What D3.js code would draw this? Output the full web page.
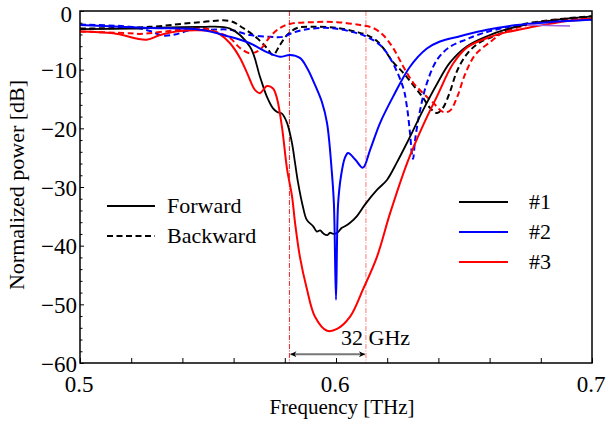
<!DOCTYPE html>
<html>
<head>
<meta charset="utf-8">
<script src="https://cdn.jsdelivr.net/npm/d3@7"></script>
<style>
  html, body { margin: 0; padding: 0; background: #fff; }
  svg { display: block; }
  text { font-family: "Liberation Serif", "Times New Roman", serif; fill: #000; }
</style>
</head>
<body>
<svg id="chart" width="608" height="421"></svg>
<script>
// ---------- data (frequency in THz, power in dB) ----------
const fwd1Freq = [0.5, 0.52, 0.547, 0.5586, 0.5664, 0.5703, 0.573, 0.5754, 0.577, 0.5789, 0.5809, 0.5828, 0.584, 0.5852, 0.5871, 0.5886, 0.5911, 0.5925, 0.5938, 0.595, 0.5966, 0.5977, 0.5989, 0.6005, 0.6022, 0.6035, 0.6055, 0.6081, 0.6113, 0.616, 0.6199, 0.6238, 0.6277, 0.634, 0.6395, 0.6445, 0.6512, 0.659, 0.6668, 0.677, 0.6902, 0.7];
const fwd1Db   = [-3.1, -3.0, -2.7, -3.0, -6.1, -11.2, -14.6, -16.6, -17.2, -17.5, -19.1, -22.5, -25.9, -29.3, -33.4, -35.6, -36.7, -37.6, -37.4, -37.9, -38.2, -37.8, -38.0, -37.8, -37.0, -36.7, -36.1, -35.0, -33.0, -30.5, -28.8, -25.8, -22.5, -16.9, -12.4, -8.8, -6.0, -4.3, -3.1, -2.1, -1.3, -0.9];

const fwd2Freq = [0.5, 0.5273, 0.5469, 0.5586, 0.5664, 0.573, 0.5781, 0.582, 0.5859, 0.5887, 0.5918, 0.5945, 0.5965, 0.5984, 0.5992, 0.6, 0.6008, 0.602, 0.6035, 0.6047, 0.6075, 0.6105, 0.6133, 0.6172, 0.6223, 0.6289, 0.6355, 0.6406, 0.6484, 0.659, 0.6707, 0.6836, 0.7];
const fwd2Db   = [-2.4, -2.9, -3.2, -4.4, -5.5, -7.0, -7.8, -7.5, -8.0, -9.7, -12.6, -15.5, -19.1, -27.6, -33.0, -49.2, -33.0, -28.0, -25.0, -24.2, -25.3, -26.7, -23.7, -19.1, -14.6, -9.5, -6.4, -5.2, -4.3, -3.2, -2.4, -1.9, -1.5];

const fwd3Freq = [0.5, 0.513, 0.526, 0.5313, 0.5391, 0.5521, 0.5547, 0.5586, 0.5625, 0.5652, 0.5684, 0.5703, 0.573, 0.5754, 0.577, 0.5789, 0.5809, 0.5828, 0.584, 0.5859, 0.5887, 0.5918, 0.5965, 0.6004, 0.6055, 0.6105, 0.616, 0.6211, 0.6277, 0.634, 0.6395, 0.6457, 0.6512, 0.659, 0.6668, 0.677, 0.6902, 0.7];
const fwd3Db   = [-3.5, -3.8, -4.9, -4.1, -3.4, -3.5, -4.0, -5.5, -8.0, -10.5, -13.5, -14.0, -12.8, -13.2, -15.0, -19.8, -27.0, -31.5, -36.1, -41.9, -47.5, -52.1, -54.5, -54.2, -52.1, -47.5, -41.9, -34.5, -26.0, -19.5, -14.5, -9.0, -6.2, -4.6, -3.6, -2.7, -1.7, -1.3];

const bwd1Freq = [0.5, 0.5273, 0.5469, 0.5586, 0.5637, 0.5691, 0.573, 0.5754, 0.5781, 0.5809, 0.5848, 0.591, 0.6004, 0.6082, 0.6121, 0.616, 0.6184, 0.6223, 0.6262, 0.6301, 0.634, 0.6367, 0.6395, 0.6418, 0.6445, 0.6473, 0.6512, 0.6563, 0.6629, 0.6719, 0.6848, 0.7];
const bwd1Db   = [-3.0, -2.7, -1.9, -1.7, -2.9, -4.6, -6.3, -7.5, -5.8, -4.1, -2.9, -2.7, -2.9, -3.6, -4.1, -5.1, -6.3, -8.7, -10.5, -12.6, -14.8, -16.5, -17.4, -16.5, -13.8, -10.2, -7.3, -5.3, -4.1, -2.4, -1.5, -0.9];

const bwd2Freq = [0.5, 0.5195, 0.5273, 0.5324, 0.5371, 0.543, 0.5508, 0.5586, 0.5664, 0.5742, 0.5793, 0.5832, 0.5887, 0.5977, 0.6066, 0.6121, 0.6172, 0.6211, 0.6262, 0.6277, 0.6289, 0.6297, 0.6301, 0.6309, 0.6328, 0.6355, 0.6395, 0.6445, 0.6512, 0.6551, 0.6652, 0.6785, 0.6914, 0.7];
const bwd2Db   = [-2.3, -2.7, -3.4, -4.2, -4.0, -3.3, -3.2, -3.2, -4.1, -4.4, -4.4, -3.7, -3.1, -2.9, -3.6, -4.4, -5.8, -8.0, -13.0, -16.3, -20.8, -24.5, -25.2, -22.0, -17.0, -12.3, -8.3, -6.1, -4.8, -4.1, -2.9, -2.0, -1.5, -1.4];

const bwd3Freq = [0.5, 0.5195, 0.5234, 0.5391, 0.548, 0.5535, 0.5586, 0.5625, 0.5664, 0.5703, 0.5742, 0.5781, 0.582, 0.591, 0.6004, 0.6094, 0.6145, 0.6184, 0.6223, 0.6262, 0.6301, 0.634, 0.6379, 0.6418, 0.6445, 0.6473, 0.6504, 0.6543, 0.6602, 0.6652, 0.6746, 0.6863, 0.7];
const bwd3Db   = [-3.5, -3.8, -3.9, -3.2, -2.9, -3.6, -4.6, -6.3, -7.2, -6.6, -4.4, -2.9, -2.2, -1.9, -1.9, -2.4, -2.9, -4.1, -6.3, -9.4, -12.2, -14.0, -15.6, -17.2, -17.0, -14.7, -10.8, -7.5, -5.3, -3.7, -2.4, -1.5, -1.1];

const extraFreq = [0.6746, 0.6914];
const extraDb   = [-2.4, -2.55];

const markerFreq = [0.5818, 0.6117];
const spanLabel = "32 GHz";

const xTickValues = [0.5, 0.52, 0.54, 0.56, 0.58, 0.6, 0.62, 0.64, 0.66, 0.68, 0.7];
const xLabelValues = [0.5, 0.6, 0.7];
const yTickValues = [0, -10, -20, -30, -40, -50, -60];
const yMinorValues = d3.range(0, -61, -2);

const seriesNames = ["#1", "#2", "#3"];
const directionNames = ["Forward", "Backward"];
const xTitle = "Frequency [THz]";
const yTitle = "Normalized power [dB]";

// ---------- layout ----------
const svg = d3.select("#chart");
const L = 80, R = 592, T = 11, B = 363;
const x = d3.scaleLinear().domain([0.5, 0.7]).range([L, R]);
const y = d3.scaleLinear().domain([-60, 0]).range([B, T]);

const colors = ["#000000", "#0000ff", "#ff0000"];
const dashPat = "6,3.5";

svg.append("defs").append("clipPath").attr("id", "plotclip")
  .append("rect").attr("x", L).attr("y", T).attr("width", R - L).attr("height", B - T);

const plot = svg.append("g").attr("clip-path", "url(#plotclip)");

// vertical markers
const markerColors = ["#e8222a", "#ff7a7a"];
markerFreq.forEach((f, i) => {
  plot.append("line")
    .attr("x1", x(f)).attr("x2", x(f)).attr("y1", T).attr("y2", B)
    .attr("stroke", markerColors[i]).attr("stroke-width", 1)
    .attr("stroke-dasharray", "5,1.5,1,1.5");
});

const line = d3.line()
  .x(d => x(d[0])).y(d => y(d[1]))
  .curve(d3.curveCatmullRom.alpha(0.5));

function draw(fs, ds, color, dashed, width) {
  plot.append("path")
    .datum(fs.map((f, i) => [f, ds[i]]))
    .attr("d", line)
    .attr("fill", "none")
    .attr("stroke", color)
    .attr("stroke-width", width || 2)
    .attr("stroke-dasharray", dashed ? dashPat : null)
    .attr("stroke-linejoin", "round");
}

draw(bwd1Freq, bwd1Db, colors[0], true);
draw(bwd2Freq, bwd2Db, colors[1], true);
draw(bwd3Freq, bwd3Db, colors[2], true);
draw(fwd1Freq, fwd1Db, colors[0], false, 1.8);
draw(fwd3Freq, fwd3Db, colors[2], false);
draw(fwd2Freq, fwd2Db, colors[1], false);
draw(extraFreq, extraDb, "#a060e0", false, 1.5);

// span arrow
const ay = y(-58.5);
const defs = svg.select("defs");
["start", "end"].forEach(k => {
  defs.append("marker").attr("id", "arr-" + k)
    .attr("viewBox", "0 0 10 10").attr("refX", 10).attr("refY", 5)
    .attr("markerWidth", 9).attr("markerHeight", 6).attr("markerUnits", "userSpaceOnUse")
    .attr("orient", k === "start" ? "auto-start-reverse" : "auto")
    .append("path").attr("d", "M0,0 L10,5 L0,10 L3,5 Z").attr("fill", "#000");
});
svg.append("line")
  .attr("x1", x(markerFreq[0]) + 1).attr("x2", x(markerFreq[1]) - 1)
  .attr("y1", ay).attr("y2", ay)
  .attr("stroke", "#777").attr("stroke-width", 2)
  .attr("marker-start", "url(#arr-start)").attr("marker-end", "url(#arr-end)");
svg.append("text").attr("x", 341).attr("y", 345)
  .attr("font-size", 22).text(spanLabel);

// axes
const xAxis = d3.axisBottom(x).tickValues(xTickValues)
  .tickSizeInner(-5).tickSizeOuter(0).tickFormat("");
svg.append("g").attr("transform", `translate(0,${B})`).call(xAxis);
svg.append("g").selectAll("text").data(xLabelValues).join("text")
  .attr("x", d => x(d) - 1).attr("y", 392)
  .attr("text-anchor", "middle").attr("font-size", 23)
  .text(d => d3.format(".1f")(d));

const yAxis = d3.axisLeft(y).tickValues(yTickValues)
  .tickSizeInner(-4).tickSizeOuter(0)
  .tickFormat(d => d === 0 ? "0" : "\u2212" + Math.abs(d));
const gy = svg.append("g").attr("transform", `translate(${L},0)`).call(yAxis);
gy.selectAll("text").attr("font-size", 23).attr("x", -3).attr("dy", "0.35em")
  .attr("font-family", "Liberation Serif, serif");
gy.selectAll(".tick").filter(d => d === 0).select("text").attr("x", -8).attr("dy", "0.45em");

const yMinor = d3.axisLeft(y).tickValues(yMinorValues.filter(v => v % 10 !== 0))
  .tickSizeInner(-2.5).tickSizeOuter(0).tickFormat("");
svg.append("g").attr("transform", `translate(${L},0)`).call(yMinor);

svg.selectAll(".domain").remove();
svg.selectAll(".tick line").attr("stroke", "#000");

// frame
svg.append("rect").attr("x", L).attr("y", T).attr("width", R - L).attr("height", B - T)
  .attr("fill", "none").attr("stroke", "#000").attr("stroke-width", 1.5);

// titles
svg.append("text").attr("x", (L + R) / 2 + 6).attr("y", 414)
  .attr("text-anchor", "middle").attr("font-size", 21).text(xTitle);
svg.append("text").attr("transform", `translate(24,${(T + B) / 2 - 2}) rotate(-90)`)
  .attr("text-anchor", "middle").attr("font-size", 22).text(yTitle);

// legend: direction
directionNames.forEach((n, i) => {
  const ly = 206 + i * 30;
  svg.append("line").attr("x1", 107).attr("x2", 155).attr("y1", ly).attr("y2", ly)
    .attr("stroke", "#000").attr("stroke-width", 2)
    .attr("stroke-dasharray", i === 1 ? dashPat : null);
  svg.append("text").attr("x", 167).attr("y", ly + 7).attr("font-size", 22).text(n);
});
// legend: series
seriesNames.forEach((n, i) => {
  const ly = 202 + i * 30;
  svg.append("line").attr("x1", 459).attr("x2", 508).attr("y1", ly).attr("y2", ly)
    .attr("stroke", colors[i]).attr("stroke-width", 2);
  svg.append("text").attr("x", 529).attr("y", ly + 7).attr("font-size", 22).text(n);
});
</script>
</body>
</html>
